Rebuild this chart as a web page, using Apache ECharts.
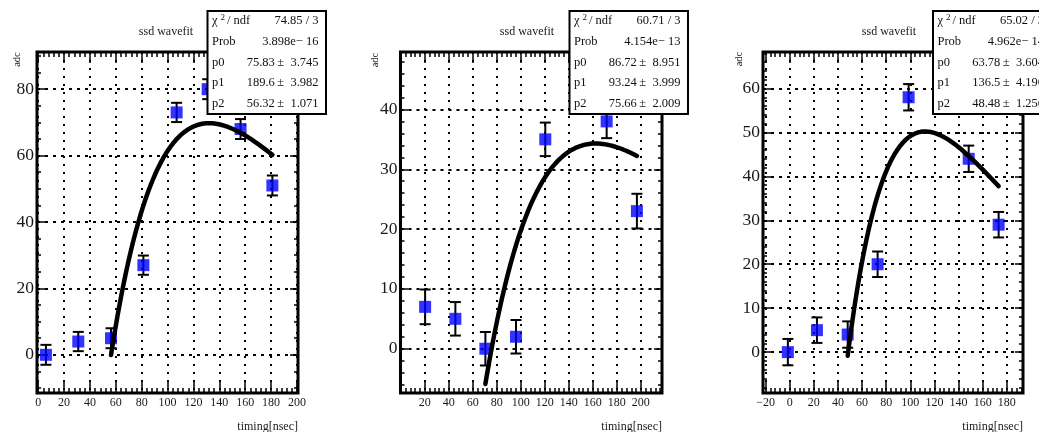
<!DOCTYPE html>
<html>
<head>
<meta charset="utf-8">
<script src="https://cdn.jsdelivr.net/npm/echarts@6/dist/echarts.min.js"></script>
<style>
  html, body { margin: 0; padding: 0; background: #fff; }
  #chart { width: 1039px; height: 432px; }
</style>
</head>
<body>
<div id="chart"></div>
<script>
// ---- SSD waveform samples: timing [nsec], amplitude [adc], error [adc] ----
const timing1 = [6, 31, 56.3, 81.3, 107, 131, 156.4, 181];
const adc1    = [0, 4, 5, 27, 73, 80, 68, 51];
const err1    = [3, 2.9, 3, 2.9, 2.9, 3, 3, 3];

const timing2 = [20.3, 45.5, 70.5, 96, 120.4, 146, 171.5, 196.7];
const adc2    = [7, 5, 0, 2, 35, 43, 38, 23];
const err2    = [2.9, 2.8, 2.8, 2.8, 2.8, 2.8, 2.8, 2.9];

const timing3 = [-1.5, 22.6, 48.1, 72.9, 98.6, 123.5, 148.4, 173.2];
const adc3    = [0, 5, 4, 20, 58, 62, 44, 29];
const err3    = [3, 2.9, 3, 2.9, 3, 3, 3, 2.9];

// ---- fit results (p0 = shaping time, p1 = amplitude, p2 = start time) ----
const fitPar1 = [75.83, 189.6, 56.32];
const fitErr1 = [3.745, 3.982, 1.071];
const fitChi1 = '74.85 / 3';
const fitProb1 = '3.898e\u2212 16';

const fitPar2 = [86.72, 93.24, 75.66];
const fitErr2 = [8.951, 3.999, 2.009];
const fitChi2 = '60.71 / 3';
const fitProb2 = '4.154e\u2212 13';

const fitPar3 = [63.78, 136.5, 48.48];
const fitErr3 = [3.604, 4.196, 1.256];
const fitChi3 = '65.02 / 3';
const fitProb3 = '4.962e\u2212 14';

// ---- axis tick labels ----
const xTicks1 = [0, 20, 40, 60, 80, 100, 120, 140, 160, 180, 200];
const yTicks1 = [0, 20, 40, 60, 80];
const xTicks2 = [20, 40, 60, 80, 100, 120, 140, 160, 180, 200];
const yTicks2 = [0, 10, 20, 30, 40];
const xTicks3 = [-20, 0, 20, 40, 60, 80, 100, 120, 140, 160, 180];
const yTicks3 = [0, 10, 20, 30, 40, 50, 60];

const TITLE = 'ssd wavefit';
const X_NAME = 'timing[nsec]';
const Y_NAME = 'adc';

// ---- panel layout ----
const SERIF = '"Liberation Serif", "DejaVu Serif", serif';
const panels = [
  { t: timing1, a: adc1, e: err1, par: fitPar1, perr: fitErr1, chi: fitChi1, prob: fitProb1,
    xt: xTicks1, yt: yTicks1, xMinor: 4, yMinor: 5,
    xr: [-0.9, 200.8], yr: [-11.5, 91.2],
    grid: { left: 37, top: 52, width: 261, height: 341 },
    title: [166, 32], yName: [17, 59.5], box: [207.5, 11] },
  { t: timing2, a: adc2, e: err2, par: fitPar2, perr: fitErr2, chi: fitChi2, prob: fitProb2,
    xt: xTicks2, yt: yTicks2, xMinor: 4, yMinor: 2,
    xr: [-0.2, 217.6], yr: [-7.4, 49.6],
    grid: { left: 400.5, top: 52, width: 261.5, height: 341 },
    title: [527, 32], yName: [375.5, 60], box: [569.5, 11] },
  { t: timing3, a: adc3, e: err3, par: fitPar3, perr: fitErr3, chi: fitChi3, prob: fitProb3,
    xt: xTicks3, yt: yTicks3, xMinor: 4, yMinor: 2,
    xr: [-22.1, 193.4], yr: [-9.3, 68.3],
    grid: { left: 763, top: 52, width: 260, height: 341 },
    title: [889, 32], yName: [739, 59], box: [933, 11] }
];

// pulse shape: p1 * (t - p2)/p0 * exp(-(t - p2)/p0)
function pulse(par, t) {
  const u = (t - par[2]) / par[0];
  return par[1] * u * Math.exp(-u);
}

function minorValues(range, step) {
  const out = [];
  const start = Math.ceil(range[0] / step) * step;
  for (let v = start; v <= range[1] + 1e-9; v += step) out.push(Math.round(v * 1000) / 1000);
  return out;
}

function fmtTick(v) {
  return v < 0 ? '\u2212' + Math.abs(v) : String(v);
}

const xAxes = [], yAxes = [], grids = [], series = [], graphics = [];

panels.forEach((p, gi) => {
  grids.push(Object.assign({
    show: true, borderColor: '#000', borderWidth: 3, backgroundColor: '#fff',
    containLabel: false
  }, p.grid));

  const xMinorVals = minorValues(p.xr, p.xMinor);
  const yMinorVals = minorValues(p.yr, p.yMinor);
  const base = { gridIndex: gi, axisLine: { show: false, onZero: false }, splitLine: { show: false } };

  const xBase = Object.assign({}, base, { type: 'value', min: p.xr[0], max: p.xr[1] });
  const yBase = Object.assign({}, base, { type: 'value', min: p.yr[0], max: p.yr[1] });

  const xIdx = xAxes.length;
  // bottom: major ticks + labels + vertical grid
  xAxes.push(Object.assign({}, xBase, {
    position: 'bottom',
    axisTick: { inside: true, length: 11, customValues: p.xt, lineStyle: { color: '#000', width: 1.5 } },
    axisLabel: { customValues: p.xt, margin: 4, fontSize: 12, fontFamily: SERIF, color: '#1a1a1a',
                 formatter: fmtTick, showMinLabel: true, showMaxLabel: true },
    splitLine: { show: true, lineStyle: { color: '#000', width: 2, type: [2, 6] } }
  }));
  // top: major ticks
  xAxes.push(Object.assign({}, xBase, {
    position: 'top',
    axisTick: { inside: true, length: 11, customValues: p.xt, lineStyle: { color: '#000', width: 1.5 } },
    axisLabel: { show: false }
  }));
  // minor ticks on both horizontal edges
  ['top', 'bottom'].forEach(pos => xAxes.push(Object.assign({}, xBase, {
    position: pos,
    axisTick: { inside: true, length: 5, customValues: xMinorVals, lineStyle: { color: '#000', width: 1.5 } },
    axisLabel: { show: false }
  })));

  const yIdx = yAxes.length;
  // left: major ticks + labels + horizontal grid
  yAxes.push(Object.assign({}, yBase, {
    position: 'left',
    axisTick: { inside: true, length: 8, customValues: p.yt, lineStyle: { color: '#000', width: 1.5 } },
    axisLabel: { customValues: p.yt, margin: 3, fontSize: 17.5, fontFamily: SERIF, color: '#1a1a1a',
                 formatter: fmtTick },
    splitLine: { show: true, lineStyle: { color: '#000', width: 2, type: [3, 5] } }
  }));
  yAxes.push(Object.assign({}, yBase, {
    position: 'right',
    axisTick: { inside: true, length: 8, customValues: p.yt, lineStyle: { color: '#000', width: 1.5 } },
    axisLabel: { show: false }
  }));
  ['right', 'left'].forEach(pos => yAxes.push(Object.assign({}, yBase, {
    position: pos,
    axisTick: { inside: true, length: 4, customValues: yMinorVals, lineStyle: { color: '#000', width: 1.5 } },
    axisLabel: { show: false }
  })));

  // error bars
  series.push({
    type: 'custom', xAxisIndex: xIdx, yAxisIndex: yIdx, z: 2, silent: true,
    data: p.t.map((t, i) => [t, p.a[i], p.e[i]]),
    encode: { x: 0, y: 1 },
    renderItem: function (params, api) {
      const x = api.value(0), y = api.value(1), e = api.value(2);
      const hi = api.coord([x, y + e]);
      const lo = api.coord([x, y - e]);
      const hw = 5.5;
      const st = { stroke: '#000', lineWidth: 2 };
      return {
        type: 'group',
        children: [
          { type: 'line', shape: { x1: hi[0], y1: hi[1], x2: lo[0], y2: lo[1] }, style: st },
          { type: 'line', shape: { x1: hi[0] - hw, y1: hi[1], x2: hi[0] + hw, y2: hi[1] }, style: st },
          { type: 'line', shape: { x1: lo[0] - hw, y1: lo[1], x2: lo[0] + hw, y2: lo[1] }, style: st }
        ]
      };
    }
  });

  // data markers
  series.push({
    type: 'scatter', xAxisIndex: xIdx, yAxisIndex: yIdx, z: 3, silent: true,
    symbol: 'rect', symbolSize: 12,
    itemStyle: { color: '#0000ff' },
    data: p.t.map((t, i) => [t, p.a[i]])
  });

  // fitted pulse over the fit range (3rd to last sample)
  const t0 = p.t[2], t1 = p.t[p.t.length - 1];
  const curve = [];
  const n = 120;
  for (let k = 0; k <= n; k++) {
    const t = t0 + (t1 - t0) * k / n;
    curve.push([t, pulse(p.par, t)]);
  }
  series.push({
    type: 'line', xAxisIndex: xIdx, yAxisIndex: yIdx, z: 4, silent: true,
    showSymbol: false, symbol: 'none', smooth: false,
    lineStyle: { color: '#000', width: 4.5, cap: 'round', join: 'round' },
    data: curve
  });

  // title, axis names
  graphics.push({
    type: 'text', x: p.title[0], y: p.title[1], z: 10,
    style: { text: TITLE, font: '12px ' + SERIF, fill: '#1a1a1a', align: 'center', verticalAlign: 'middle' }
  });
  graphics.push({
    type: 'text', x: p.yName[0], y: p.yName[1], rotation: Math.PI / 2, z: 10,
    style: { text: Y_NAME, font: '10.5px ' + SERIF, fill: '#1a1a1a', align: 'center', verticalAlign: 'middle' }
  });
  graphics.push({
    type: 'text', x: p.grid.left + p.grid.width, y: 426.5, z: 10,
    style: { text: X_NAME, font: '12px ' + SERIF, fill: '#1a1a1a', align: 'right', verticalAlign: 'middle' }
  });

  // fit statistics box
  const bx = p.box[0], by = p.box[1], bw = 118.5, bh = 103;
  graphics.push({
    type: 'rect', z: 20, shape: { x: bx, y: by, width: bw, height: bh },
    style: { fill: '#fff', stroke: '#000', lineWidth: 2 }
  });
  const rowY = k => by + 10 + k * 20.7;
  const lx = bx + 4.5, rx = bx + bw - 7.5;
  const txt = (x, y, s, align, size) => ({
    type: 'text', x: x, y: y, z: 21,
    style: { text: s, font: (size || 12.5) + 'px ' + SERIF, fill: '#111', align: align, verticalAlign: 'middle' }
  });
  graphics.push(txt(lx, rowY(0), '\u03c7', 'left'));
  graphics.push(txt(lx + 8.5, rowY(0) - 3.5, '2', 'left', 9));
  graphics.push(txt(lx + 15, rowY(0), '/ ndf', 'left'));
  graphics.push(txt(rx, rowY(0), p.chi, 'right'));
  graphics.push(txt(lx, rowY(1), 'Prob', 'left'));
  graphics.push(txt(rx, rowY(1), p.prob, 'right'));
  for (let k = 0; k < 3; k++) {
    graphics.push(txt(lx, rowY(2 + k), 'p' + k, 'left'));
    graphics.push(txt(rx, rowY(2 + k), String(p.par[k]) + '\u2009\u00b1\u2002' + String(p.perr[k]), 'right'));
  }
});

const chart = echarts.init(document.getElementById('chart'), null, { renderer: 'canvas' });
chart.setOption({
  animation: false,
  backgroundColor: '#fff',
  grid: grids,
  xAxis: xAxes,
  yAxis: yAxes,
  series: series,
  graphic: { elements: graphics }
});
</script>
</body>
</html>
